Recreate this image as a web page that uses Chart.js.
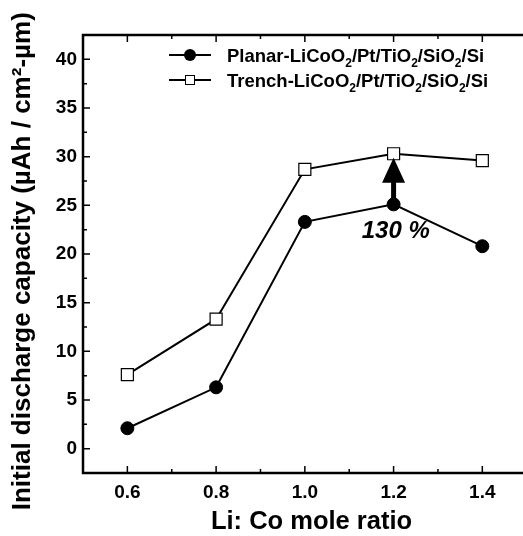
<!DOCTYPE html>
<html>
<head>
<meta charset="utf-8">
<script src="https://cdn.jsdelivr.net/npm/chart.js@4.4.1/dist/chart.umd.min.js"></script>
<style>
  html, body { margin: 0; padding: 0; background: #fff; overflow: hidden; }
</style>
</head>
<body>
<!-- the original figure is cropped on the right, so the canvas runs past the window -->
<canvas id="chart" width="540" height="536"></canvas>
<script>
// values
const moleRatio = [0.6, 0.8, 1.0, 1.2, 1.4];
const planarCap = [2.1, 6.3, 23.3, 25.1, 20.8];
const trenchCap = [7.6, 13.3, 28.7, 30.3, 29.6];

const xTicks = [0.6, 0.8, 1.0, 1.2, 1.4];
const xMinor = [0.7, 0.9, 1.1, 1.3, 1.5];
const yTicks = [0, 5, 10, 15, 20, 25, 30, 35, 40];
const yMinor = [2.5, 7.5, 12.5, 17.5, 22.5, 27.5, 32.5, 37.5];

const seriesLabels = [
  "Planar-LiCoO_2/Pt/TiO_2/SiO_2/Si",
  "Trench-LiCoO_2/Pt/TiO_2/SiO_2/Si",
];

// arrow between the two curves at Li:Co = 1.2
const arrowRatio = 1.2;
const arrowFrom = 25.1;
const arrowTo = 29.9;
const noteText = "130 %";
const notePos = [1.205, 22.3];

const FONT = '"Liberation Sans", Arial, sans-serif';

// draw text where "_2" means subscript 2
function drawRich(ctx, text, x, y, size) {
  const parts = text.split(/_(\d)/);
  let cx = x;
  parts.forEach((p, i) => {
    const sub = i % 2 === 1;
    ctx.font = `bold ${sub ? Math.round(size * 0.65) : size}px ${FONT}`;
    ctx.fillText(p, cx, y + (sub ? size * 0.3 : 0));
    cx += ctx.measureText(p).width;
  });
}

const framePlugin = {
  id: "frame",
  afterDatasetsDraw(chart) {
    const { ctx, chartArea: a, scales: { x, y } } = chart;
    ctx.save();
    ctx.strokeStyle = "#000";
    ctx.fillStyle = "#000";

    // axes box
    ctx.lineWidth = 2.5;
    ctx.strokeRect(a.left, a.top, a.right - a.left, a.bottom - a.top);

    // inward ticks
    ctx.lineWidth = 1.5;
    ctx.beginPath();
    const xt = (v, len) => {
      const px = x.getPixelForValue(v);
      ctx.moveTo(px, a.bottom); ctx.lineTo(px, a.bottom - len);
      ctx.moveTo(px, a.top); ctx.lineTo(px, a.top + len);
    };
    const yt = (v, len) => {
      const py = y.getPixelForValue(v);
      ctx.moveTo(a.left, py); ctx.lineTo(a.left + len, py);
      ctx.moveTo(a.right, py); ctx.lineTo(a.right - len, py);
    };
    xTicks.forEach(v => xt(v, 7));
    xMinor.forEach(v => xt(v, 4));
    yTicks.forEach(v => yt(v, 7));
    yMinor.forEach(v => yt(v, 4));
    ctx.stroke();

    // arrow
    const ax = x.getPixelForValue(arrowRatio);
    const y0 = y.getPixelForValue(arrowFrom);
    const y1 = y.getPixelForValue(arrowTo);
    const headLen = 25, headW = 23;
    ctx.lineWidth = 5;
    ctx.beginPath();
    ctx.moveTo(ax, y0);
    ctx.lineTo(ax, y1 + headLen - 2);
    ctx.stroke();
    ctx.beginPath();
    ctx.moveTo(ax, y1);
    ctx.lineTo(ax - headW / 2, y1 + headLen);
    ctx.lineTo(ax + headW / 2, y1 + headLen);
    ctx.closePath();
    ctx.fill();

    // annotation
    ctx.font = `italic bold 24px ${FONT}`;
    ctx.textAlign = "center";
    ctx.textBaseline = "middle";
    ctx.fillText(noteText, x.getPixelForValue(notePos[0]), y.getPixelForValue(notePos[1]));

    // legend
    ctx.textAlign = "left";
    ctx.textBaseline = "alphabetic";
    const rows = [55, 80];
    rows.forEach((ry, i) => {
      ctx.lineWidth = 2;
      ctx.beginPath();
      ctx.moveTo(169, ry); ctx.lineTo(211, ry);
      ctx.stroke();
      ctx.lineWidth = 1;
      if (i === 0) {
        ctx.beginPath();
        ctx.arc(190, ry, 6, 0, Math.PI * 2);
        ctx.fill();
      } else {
        ctx.fillStyle = "#fff";
        ctx.fillRect(185.5, ry - 4.5, 9, 9);
        ctx.strokeRect(185.5, ry - 4.5, 9, 9);
        ctx.fillStyle = "#000";
      }
      drawRich(ctx, seriesLabels[i], 227, ry + 6.5, 18.5);
    });
    ctx.restore();
  },
};

const tickFont = { family: FONT, weight: "bold", size: 19 };

new Chart(document.getElementById("chart"), {
  type: "line",
  data: {
    datasets: [
      {
        label: seriesLabels[0],
        data: moleRatio.map((v, i) => ({ x: v, y: planarCap[i] })),
        borderColor: "#000",
        borderWidth: 2,
        pointStyle: "circle",
        pointRadius: 6.5,
        pointBackgroundColor: "#000",
        pointBorderColor: "#000",
        pointBorderWidth: 1,
        tension: 0,
      },
      {
        label: seriesLabels[1],
        data: moleRatio.map((v, i) => ({ x: v, y: trenchCap[i] })),
        borderColor: "#000",
        borderWidth: 2,
        pointStyle: "rect",
        pointRadius: 8.5,
        pointBackgroundColor: "#fff",
        pointBorderColor: "#000",
        pointBorderWidth: 1.2,
        tension: 0,
      },
    ],
  },
  options: {
    responsive: false,
    animation: false,
    devicePixelRatio: 1,
    layout: { autoPadding: false, padding: { top: 35, right: 0, left: 0, bottom: 0 } },
    plugins: { legend: { display: false }, tooltip: { enabled: false } },
    scales: {
      x: {
        type: "linear",
        min: 0.5,
        max: 1.53,
        afterBuildTicks: (s) => { s.ticks = xTicks.map((v) => ({ value: v })); },
        afterFit: (s) => { s.height = 63; s.paddingLeft = 0; s.paddingRight = 0; },
        grid: { display: false, drawTicks: false },
        border: { display: false },
        ticks: {
          callback: (v) => Number(v).toFixed(1),
          font: tickFont,
          color: "#000",
          padding: 8,
          maxRotation: 0,
          autoSkip: false,
        },
        title: {
          display: true,
          text: "Li: Co mole ratio",
          color: "#000",
          font: { family: FONT, weight: "bold", size: 25.5, lineHeight: 1 },
          padding: { top: 0, bottom: 1 },
        },
      },
      y: {
        min: -2.5,
        max: 42.5,
        afterBuildTicks: (s) => { s.ticks = yTicks.map((v) => ({ value: v })); },
        afterFit: (s) => { s.width = 83; s.paddingTop = 0; s.paddingBottom = 0; },
        grid: { display: false, drawTicks: false },
        border: { display: false },
        ticks: { font: tickFont, color: "#000", padding: 6, autoSkip: false },
        title: {
          display: true,
          // trailing spaces nudge the rotated title down like in the original
          text: "Initial discharge capacity (µAh / cm²-µm)  ",
          color: "#000",
          font: { family: FONT, weight: "bold", size: 26, lineHeight: 1 },
          padding: { top: 10, bottom: 0 },
        },
      },
    },
  },
  plugins: [framePlugin],
});
</script>
</body>
</html>
